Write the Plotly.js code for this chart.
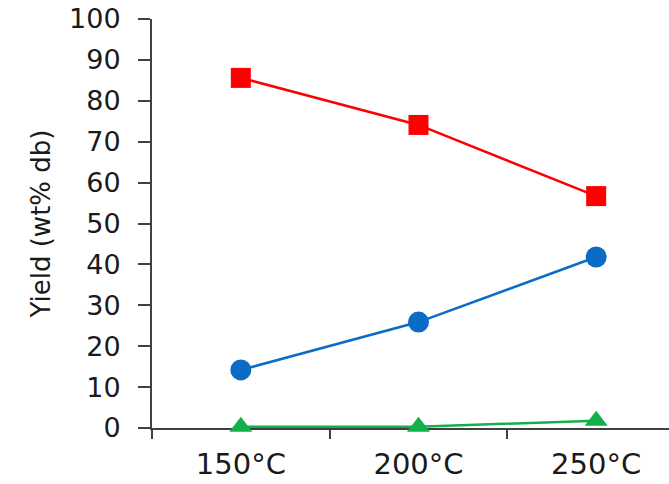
<!DOCTYPE html>
<html>
<head>
<meta charset="utf-8">
<script src="https://cdn.plot.ly/plotly-3.0.1.min.js"></script>
<style>html,body{margin:0;padding:0;background:#fff;overflow:hidden;}</style>
</head>
<body>
<div id="chart" style="width:669px;height:484px;"></div>
<script>
const categories = ["150°C", "200°C", "250°C"];
const seriesRed = [85.6, 74.1, 56.7];
const seriesBlue = [14.2, 25.9, 41.8];
const seriesGreen = [0.3, 0.3, 1.8];
const yTicks = [0, 10, 20, 30, 40, 50, 60, 70, 80, 90, 100];

const traces = [
  {x: categories, y: seriesRed, type: 'scatter', mode: 'lines+markers',
   line: {color: '#FF0000', width: 2.5}, marker: {symbol: 'square', size: 20, color: '#FF0000'}, cliponaxis: false},
  {x: categories, y: seriesBlue, type: 'scatter', mode: 'lines+markers',
   line: {color: '#0A6CC4', width: 2.5}, marker: {symbol: 'circle', size: 21, color: '#0A6CC4'}, cliponaxis: false},
  {x: categories, y: seriesGreen, type: 'scatter', mode: 'lines+markers',
   line: {color: '#12B04A', width: 2.5}, marker: {symbol: 'triangle-up', size: 20, color: '#12B04A'}, cliponaxis: false}
];

const layout = {
  width: 669, height: 484,
  margin: {l: 152, r: 0, t: 19, b: 56},
  paper_bgcolor: '#fff', plot_bgcolor: '#fff',
  showlegend: false,
  font: {family: 'DejaVu Sans, Liberation Sans, Arial', color: '#1a1a1a'},
  xaxis: {
    type: 'category', range: [-0.5, 2.41], fixedrange: true,
    showgrid: false, zeroline: false,
    showline: true, linecolor: '#404040', linewidth: 2,
    ticks: 'outside', tickson: 'boundaries', ticklen: 9, tickwidth: 2, tickcolor: '#404040',
    tickfont: {size: 29, color: '#1a1a1a'}, ticklabelstandoff: 9,
    layer: 'below traces'
  },
  yaxis: {
    range: [0, 100], fixedrange: true,
    tickmode: 'array', tickvals: yTicks, ticktext: yTicks.map(String),
    showgrid: false, zeroline: false,
    showline: true, linecolor: '#404040', linewidth: 2,
    ticks: 'outside', ticklen: 12, tickwidth: 2, tickcolor: '#404040',
    tickfont: {size: 27, color: '#1a1a1a'}, ticklabelstandoff: 12,
    title: {text: 'Yield (wt% db)', font: {size: 26, color: '#1a1a1a'}, standoff: 11},
    layer: 'below traces'
  }
};

Plotly.newPlot('chart', traces, layout, {staticPlot: true, displayModeBar: false});
</script>
</body>
</html>
